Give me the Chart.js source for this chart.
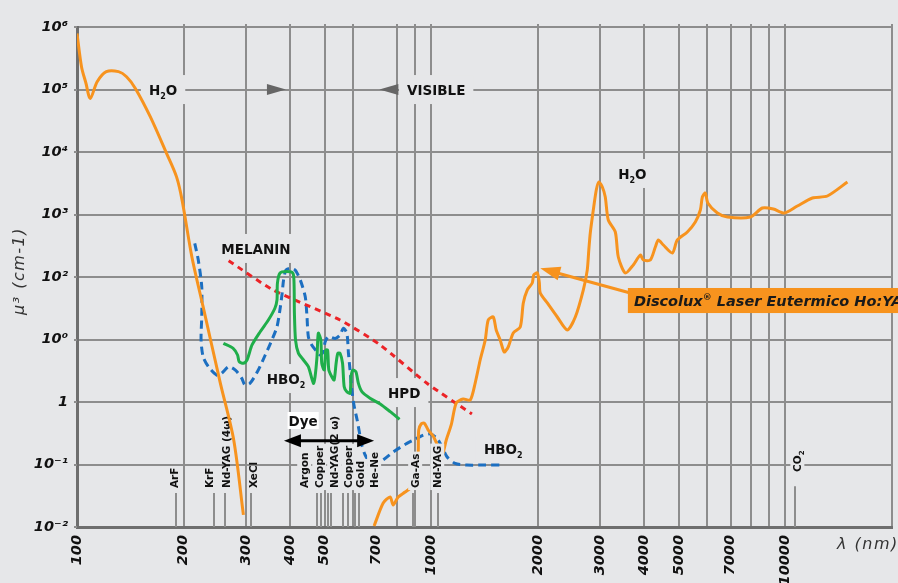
<!DOCTYPE html>
<html lang="it">
<head>
<meta charset="utf-8">
<title>Assorbimento</title>
<script src="https://cdn.jsdelivr.net/npm/chart.js@4.4.1/dist/chart.umd.min.js"></script>
<style>
  html, body { margin: 0; padding: 0; background: #e6e7e9; overflow: hidden; }
  canvas { display: block; }
</style>
</head>
<body>
<canvas id="chart" width="898" height="583"></canvas>
<script>
/* ------------------------------------------------------------
   DATI (lunghezza d'onda nm / assorbimento cm-1)
   ------------------------------------------------------------ */
// acqua, UV
const waterUvWl  = [100, 103, 106, 109, 114, 121, 131, 138, 146, 161, 179, 191, 198, 211, 227, 254, 277, 295];
const waterUvAbs = [7.9e5, 2.3e5, 1.26e5, 7.2e4, 1.33e5, 1.93e5, 1.93e5, 1.6e5, 1.05e5, 3.67e4, 9.5e3, 4.0e3, 1.7e3, 211, 33.5, 1.99, 0.247, 0.0156];

// acqua, visibile + IR
const waterIrWl  = [690, 732, 766, 781, 807, 844, 878, 907, 919, 922,
                    937, 956, 981, 1013, 1047, 1074, 1103, 1139, 1177, 1231,
                    1289, 1331, 1375, 1421, 1449, 1497, 1526, 1566, 1608, 1650,
                    1705, 1784, 1820, 1867, 1929, 1948, 1993, 2019, 2032, 2127,
                    2270, 2423, 2552, 2688, 2758, 2786, 2813, 2869, 2925, 2973,
                    3042, 3101, 3162, 3310, 3375, 3532, 3721, 3894, 3971, 4156,
                    4294, 4378, 4523, 4796, 4954, 5287, 5569, 5754, 5829, 5943,
                    6040, 6427, 6859, 7963, 8610, 9250, 9936, 10810, 11920, 13140, 14970];
const waterIrAbs = [0.0104, 0.0242, 0.0302, 0.0225, 0.0302, 0.0363, 0.0437, 0.0817, 0.158, 0.356,
                    0.445, 0.461, 0.356, 0.286, 0.191, 0.142, 0.247, 0.429, 0.964, 1.117,
                    1.076, 2.01, 4.70, 9.82, 20.5, 22.9, 14.2, 9.82, 6.31, 7.59,
                    12.7, 15.8, 38.4, 61.9, 80.2, 108, 116, 83.2, 55.5, 38.4,
                    22.9, 14.2, 22.9, 61.9, 129, 270, 506, 1180, 2466, 3311,
                    2754, 1905, 817, 525, 209, 116, 156, 225, 187, 187,
                    302, 391, 325, 242, 391, 525, 759, 1180, 1905, 2208,
                    1528, 1057, 912, 912, 1271, 1225, 1057, 1368, 1837, 1977, 3311];

// HbO2 (tratteggio blu)
const hbo2Wl  = [215, 220, 225, 225, 224, 227, 235, 248, 256, 268,
                 280, 292, 298, 308, 325, 340, 355, 367, 374, 379,
                 383, 389, 400, 413, 427, 441, 446, 450, 460, 476,
                 486, 496, 502, 513, 536, 553, 565, 578, 584, 590,
                 597, 606, 618, 637, 651, 672, 718, 783, 854, 901,
                 951, 994, 1038, 1072, 1108, 1169, 1261, 1405, 1584];
const hbo2Abs = [346, 187, 70, 23.2, 9.8, 5.31, 3.67, 2.70, 2.88, 3.67,
                 3.25, 2.39, 1.87, 1.99, 3.25, 5.65, 9.8, 16.0, 29.6, 51.5,
                 89.5, 129, 138, 129, 89.5, 48.4, 23.2, 11.1, 8.17, 6.38,
                 5.65, 6.38, 9.22, 11.1, 10.4, 11.8, 15.1, 12.6, 6.01, 3.25,
                 1.56, 0.863, 0.515, 0.205, 0.142, 0.110, 0.111, 0.160, 0.218, 0.253,
                 0.296, 0.308, 0.262, 0.193, 0.133, 0.104, 0.098, 0.098, 0.098];

// HbO2 (verde)
const hbWl  = [259, 276, 284, 287, 295, 302, 312, 329, 347, 362,
               367, 368, 374, 391, 407, 410, 411, 414, 422, 436,
               450, 465, 470, 476, 480, 488, 491, 499, 504, 510,
               514, 524, 532, 539, 545, 553, 562, 568, 578, 590,
               594, 601, 613, 623, 638, 672, 718, 766, 814];
const hbAbs = [8.69, 7.23, 5.65, 4.42, 4.16, 4.70, 8.17, 13.3, 20.5, 31.6,
               42.9, 79.3, 115, 122, 115, 79.3, 26.2, 9.8, 6.01, 4.70,
               3.67, 1.99, 2.54, 5.31, 12.6, 9.8, 4.16, 3.25, 6.79, 6.79,
               3.25, 2.54, 2.25, 4.16, 6.01, 6.01, 4.16, 1.76, 1.46, 1.38,
               2.54, 3.25, 3.05, 1.99, 1.45, 1.15, 0.929, 0.700, 0.528];

// melanina (tratteggio rosso)
const melaninWl  = [268, 358, 553, 718, 973, 1303];
const melaninAbs = [182, 61.9, 20.5, 8.17, 1.99, 0.643];

// righe laser
const laserWl  = [190, 243, 262, 309, 477, 488, 511, 522, 563, 583, 609, 625, 886, 901, 1047, 10640];
const laserTop = [0.035, 0.035, 0.035, 0.035, 0.035, 0.035, 0.035, 0.035, 0.035, 0.035, 0.035, 0.035, 0.035, 0.035, 0.035, 0.045];
const laserNames   = ['ArF', 'KrF', 'Nd-YAG (4ω)', 'XeCl', 'Argon', 'Copper', 'Nd-YAG(2 ω)', 'Copper', 'Gold', 'He-Ne', 'Ga-As', 'Nd-YAG', 'CO_2'];
const laserLabelWl = [188, 236, 264, 314, 438, 483, 532, 583, 630, 690, 901, 1040, 10810];
const laserLabelAt = [0.042, 0.042, 0.042, 0.042, 0.042, 0.042, 0.042, 0.042, 0.042, 0.042, 0.042, 0.042, 0.076];

// etichette nel grafico
const noteText = ['H_2O', 'VISIBLE', 'H_2O', 'MELANIN', 'HBO_2', 'HPD', 'HBO_2'];
const noteWl   = [175, 1033, 3697, 320, 389, 839, 1597];
const noteAbs  = [9.8e4, 9.8e4, 4450, 281, 2.33, 1.39, 0.177];

// assi
const xGridVals = [100, 200, 300, 400, 500, 600, 700, 800, 900, 1000, 2000, 3000, 4000, 5000, 6000, 7000, 8000, 9000, 10000, 20000];
const xTickText = ['100', '200', '300', '400', '500', '', '700', '', '', '1000', '2000', '3000', '4000', '5000', '', '7000', '', '', '10000', ''];
const xNoGrid   = [700];
const yTickVals = [1e-2, 1e-1, 1, 10, 100, 1e3, 1e4, 1e5, 1e6];
const yTickText = ['10⁻²', '10⁻¹', '1', '10⁰', '10²', '10³', '10⁴', '10⁵', '10⁶'];

/* ------------------------------------------------------------
   STILE
   ------------------------------------------------------------ */
const BG = '#e6e7e9';
const GRID = '#8d8d8d';
const AXIS = '#6e6e6e';
const ORANGE = '#f7931e';
const BLUE = '#1c6fc1';
const GREEN = '#1fae4a';
const RED = '#ec2327';
const FONT = '"DejaVu Sans", Verdana, sans-serif';

/* ------------------------------------------------------------
   HELPERS testo (pedici/apici con _ e ^)
   ------------------------------------------------------------ */
function segs(s) {
  const out = [];
  s.split(/([_^].)/).forEach((p) => {
    if (!p) return;
    if (p[0] === '_') out.push({ t: p[1], k: 'sub' });
    else if (p[0] === '^') out.push({ t: p[1], k: 'sup' });
    else out.push({ t: p, k: 'n' });
  });
  return out;
}

function richWidth(ctx, s, size, style) {
  let w = 0;
  segs(s).forEach((p) => {
    ctx.font = `${style} ${p.k === 'n' ? size : Math.round(size * 0.62)}px ${FONT}`;
    w += ctx.measureText(p.t).width;
  });
  return w;
}

function drawRich(ctx, s, x, y, size, style) {
  let cx = x;
  ctx.textAlign = 'left';
  ctx.textBaseline = 'alphabetic';
  segs(s).forEach((p) => {
    ctx.font = `${style} ${p.k === 'n' ? size : Math.round(size * 0.62)}px ${FONT}`;
    const dy = p.k === 'sub' ? size * 0.28 : p.k === 'sup' ? -size * 0.42 : 0;
    ctx.fillText(p.t, cx, y + dy);
    cx += ctx.measureText(p.t).width;
  });
}

function tri(ctx, tx, ty, dir, len, half) {
  ctx.beginPath();
  ctx.moveTo(tx, ty);
  ctx.lineTo(tx - dir * len, ty - half);
  ctx.lineTo(tx - dir * len, ty + half);
  ctx.closePath();
  ctx.fill();
}

function laserLabel(ctx, text, px, py, box) {
  ctx.save();
  ctx.translate(px, py);
  ctx.rotate(-Math.PI / 2);
  const w = richWidth(ctx, text, 10.5, 'bold');
  if (box) {
    ctx.fillStyle = BG;
    ctx.fillRect(-2, -7, w + 4, 14);
  }
  ctx.fillStyle = '#111';
  drawRich(ctx, text, 0, 3.8, 10.5, 'bold');
  ctx.restore();
}

/* ------------------------------------------------------------
   PLUGIN decorazioni
   ------------------------------------------------------------ */
const decor = {
  id: 'decor',
  beforeDatasetsDraw(chart) {
    const { ctx, chartArea: ca } = chart;
    const sx = chart.scales.x, sy = chart.scales.y;
    ctx.save();

    // piccoli prolungamenti della griglia oltre il bordo
    ctx.strokeStyle = GRID;
    ctx.lineWidth = 2;
    xGridVals.forEach((v) => {
      if (xNoGrid.includes(v) || v === 100) return;
      const px = Math.round(sx.getPixelForValue(v));
      ctx.beginPath();
      ctx.moveTo(px, ca.top - 3);
      ctx.lineTo(px, ca.top);
      ctx.stroke();
    });
    yTickVals.forEach((v) => {
      const py = Math.round(sy.getPixelForValue(v));
      ctx.beginPath();
      ctx.moveTo(ca.left - 3, py);
      ctx.lineTo(ca.left, py);
      ctx.stroke();
    });

    // righe laser
    laserWl.forEach((w, i) => {
      const px = Math.round(sx.getPixelForValue(w));
      ctx.beginPath();
      ctx.moveTo(px, sy.getPixelForValue(laserTop[i]));
      ctx.lineTo(px, sy.bottom);
      ctx.stroke();
    });

    // etichette con fondo
    noteText.forEach((t, i) => {
      const px = sx.getPixelForValue(noteWl[i]);
      const py = sy.getPixelForValue(noteAbs[i]);
      const w = richWidth(ctx, t, 13.5, 'bold');
      ctx.fillStyle = BG;
      ctx.fillRect(px - w / 2 - 8, py - 15, w + 16, 29);
      ctx.fillStyle = '#111';
      drawRich(ctx, t, px - w / 2, py + 5, 13.5, 'bold');
    });

    // frecce grigie UV / VISIBLE
    ctx.fillStyle = '#666';
    tri(ctx, sx.getPixelForValue(389), sy.getPixelForValue(1e5), 1, 19, 5.5);
    tri(ctx, sx.getPixelForValue(714), sy.getPixelForValue(1e5), -1, 19, 5.5);

    // etichette laser UV (sotto le curve)
    for (let i = 0; i < 4; i++) {
      laserLabel(ctx, laserNames[i], sx.getPixelForValue(laserLabelWl[i]), sy.getPixelForValue(laserLabelAt[i]), false);
    }
    ctx.restore();
  },

  afterDatasetsDraw(chart) {
    const { ctx } = chart;
    const sx = chart.scales.x, sy = chart.scales.y;
    ctx.save();

    // etichette laser visibile / IR
    for (let i = 4; i < laserNames.length; i++) {
      laserLabel(ctx, laserNames[i], sx.getPixelForValue(laserLabelWl[i]), sy.getPixelForValue(laserLabelAt[i]), true);
    }

    // Dye
    const dx = sx.getPixelForValue(435), dy = sy.getPixelForValue(0.497);
    ctx.font = `bold 13.5px ${FONT}`;
    const dw = ctx.measureText('Dye').width;
    ctx.fillStyle = '#fff';
    ctx.fillRect(dx - dw / 2 - 1, dy - 9, dw + 2, 17);
    ctx.fillStyle = '#111';
    drawRich(ctx, 'Dye', dx - dw / 2, dy + 5, 13.5, 'bold');

    const ay = sy.getPixelForValue(0.24);
    const ax1 = sx.getPixelForValue(384), ax2 = sx.getPixelForValue(690);
    ctx.strokeStyle = '#000';
    ctx.lineWidth = 3;
    ctx.beginPath();
    ctx.moveTo(ax1 + 10, ay);
    ctx.lineTo(ax2 - 10, ay);
    ctx.stroke();
    ctx.fillStyle = '#000';
    tri(ctx, ax1, ay, -1, 17, 6.5);
    tri(ctx, ax2, ay, 1, 17, 6.5);

    // richiamo Discolux
    const tx = sx.getPixelForValue(2032), ty = sy.getPixelForValue(138);
    const bx = sx.getPixelForValue(3648), by = sy.getPixelForValue(55.5);
    const ang = Math.atan2(ty - by, tx - bx);
    const ux = Math.cos(ang), uy = Math.sin(ang);
    ctx.strokeStyle = ORANGE;
    ctx.lineWidth = 3;
    ctx.beginPath();
    ctx.moveTo(bx, by);
    ctx.lineTo(tx - ux * 12, ty - uy * 12);
    ctx.stroke();
    ctx.fillStyle = ORANGE;
    ctx.beginPath();
    ctx.moveTo(tx, ty);
    ctx.lineTo(tx - ux * 20 - uy * 7, ty - uy * 20 + ux * 7);
    ctx.lineTo(tx - ux * 20 + uy * 7, ty - uy * 20 - ux * 7);
    ctx.closePath();
    ctx.fill();

    const boxL = sx.getPixelForValue(3592);
    const boxT = sy.getPixelForValue(66.7), boxB = sy.getPixelForValue(26.5);
    ctx.fillRect(boxL, boxT, chart.width - boxL + 10, boxB - boxT);
    ctx.fillStyle = '#1a1a1a';
    drawRich(ctx, 'Discolux^® Laser Eutermico Ho:YAG', boxL + 6, boxB - 7, 14.5, 'italic bold');

    // titoli assi
    ctx.fillStyle = '#333';
    ctx.font = `italic 16px ${FONT}`;
    ctx.letterSpacing = '1.5px';
    ctx.textAlign = 'center';
    ctx.textBaseline = 'middle';
    ctx.save();
    ctx.translate(20, 271);
    ctx.rotate(-Math.PI / 2);
    ctx.fillText('μ³ (cm-1)', 0, 0);
    ctx.restore();
    ctx.textAlign = 'left';
    ctx.fillText('λ (nm)', 837, 545);
    ctx.letterSpacing = '0px';
    ctx.restore();
  }
};

/* ------------------------------------------------------------
   GRAFICO
   ------------------------------------------------------------ */
const pts = (xs, ys) => xs.map((x, i) => ({ x, y: ys[i] }));
const line = (label, data, color, extra) => Object.assign({
  label, data, borderColor: color, borderWidth: 3, pointRadius: 0,
  fill: false, tension: 0.3, borderCapStyle: 'butt'
}, extra || {});

const tickFont = { family: FONT, size: 14.5, weight: 'bold', style: 'italic' };

new Chart(document.getElementById('chart'), {
  type: 'line',
  data: {
    datasets: [
      line('H2O UV', pts(waterUvWl, waterUvAbs), ORANGE),
      line('H2O IR', pts(waterIrWl, waterIrAbs), ORANGE, { tension: 0.25 }),
      line('HbO2', pts(hbWl, hbAbs), GREEN, { tension: 0.25 }),
      line('Melanin', pts(melaninWl, melaninAbs), RED, { borderDash: [6, 5], tension: 0.2 }),
      line('HBO2', pts(hbo2Wl, hbo2Abs), BLUE, { borderDash: [8, 5], tension: 0.25 })
    ]
  },
  options: {
    responsive: false,
    devicePixelRatio: 1,
    animation: false,
    layout: { padding: { top: 27, right: 6, left: 0, bottom: 0 } },
    plugins: { legend: { display: false }, tooltip: { enabled: false } },
    scales: {
      x: {
        type: 'logarithmic',
        min: 100,
        max: 20000,
        afterBuildTicks: (s) => { s.ticks = xGridVals.map((v) => ({ value: v })); },
        afterFit: (s) => { s.height = 56; s.paddingLeft = 0; s.paddingRight = 0; },
        ticks: {
          autoSkip: false, minRotation: 90, maxRotation: 90, padding: 8,
          color: '#111', font: tickFont,
          callback: (v, i) => xTickText[i]
        },
        grid: {
          drawTicks: false, lineWidth: 2,
          color: (c) => (c.tick && xNoGrid.includes(c.tick.value) ? 'rgba(0,0,0,0)' : GRID)
        },
        border: { display: true, color: AXIS, width: 3 }
      },
      y: {
        type: 'logarithmic',
        min: 0.01,
        max: 1e6,
        afterBuildTicks: (s) => { s.ticks = yTickVals.map((v) => ({ value: v })); },
        afterFit: (s) => { s.width = 77; s.paddingTop = 0; s.paddingBottom = 0; },
        ticks: {
          padding: 9, color: '#111', font: tickFont,
          callback: (v, i) => yTickText[i]
        },
        grid: { drawTicks: false, lineWidth: 2, color: GRID },
        border: { display: true, color: AXIS, width: 3 }
      }
    }
  },
  plugins: [decor]
});
</script>
</body>
</html>
